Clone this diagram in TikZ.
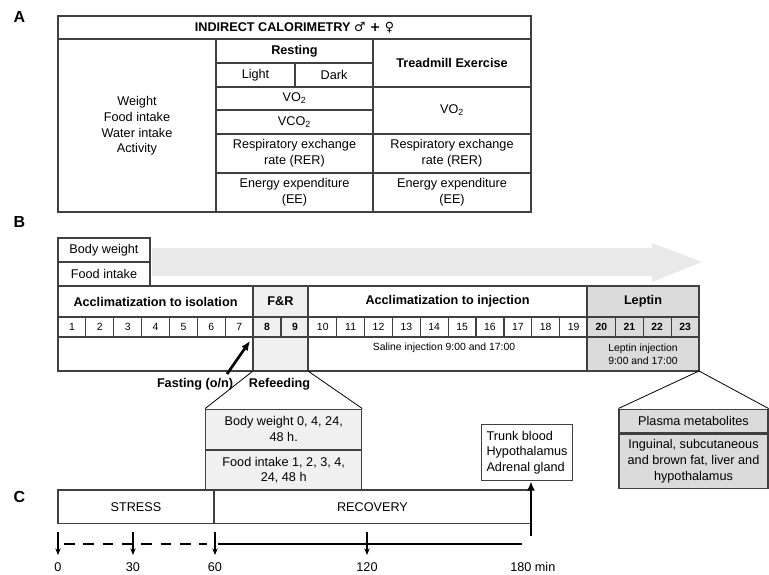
\documentclass[tikz,border=0pt]{standalone}
\usepackage{fontspec}
\setmainfont{Liberation Sans}
\newfontfamily\symbolfont{DejaVu Sans}
\usetikzlibrary{arrows.meta,positioning,calc}

\begin{document}
\begin{tikzpicture}[x=0.75pt,y=-0.75pt,
    tblline/.style={draw=black!75, line width=0.9pt},
    txt/.style={font=\fontsize{9.5}{11.8}\selectfont, align=center, inner sep=0pt},
    hdr/.style={font=\fontsize{9.5}{11.8}\selectfont\bfseries, inner sep=0pt},
    smalltxt/.style={font=\fontsize{7.8}{9.6}\selectfont, align=center, inner sep=0pt},
    panel/.style={font=\fontsize{12}{14}\selectfont\bfseries, inner sep=0pt},
    frfill/.style={fill=gray!12},
    lepfill/.style={fill=gray!28},
    tparrow/.style={-{Stealth[length=5pt,width=4pt]}, line width=0.8pt},
    bigarrow/.style={-{Latex[length=7pt,width=6pt]}, line width=2pt}]

    \useasboundingbox (0,0) rectangle (769,575);

    % Panel labels
    \node[panel] (labA) at (19.5,16.5) {A};
    \node[panel] (labB) at (19.5,222) {B};
    \node[panel] (labC) at (19.5,497) {C};

    % Panel A: calorimetry table
    \draw[tblline] (58,16) rectangle (531,212);
    \draw[tblline] (58,39) -- (531,39);
    \draw[tblline] (216,39) -- (216,212);
    \draw[tblline] (373,39) -- (373,212);
    \draw[tblline] (216,63) -- (373,63);
    \draw[tblline] (295,63) -- (295,87);
    \draw[tblline] (216,110) -- (373,110);
    \foreach \y in {87,134,173} {
        \draw[tblline] (216,\y) -- (531,\y);
    }

    \node[hdr] (title) at (294.5,27.5) {INDIRECT CALORIMETRY {\symbolfont ♂ + ♀}};
    \node[txt] (measures) at (137,126) {Weight\\Food intake\\Water intake\\Activity};
    \node[hdr] (resting) at (294.5,51) {Resting};
    \node[txt] (light) at (255.5,75) {Light};
    \node[txt] (dark) at (334,75) {Dark};
    \node[txt] (vo2) at (294.5,98.5) {VO\textsubscript{2}};
    \node[txt] (vco2) at (294.5,122) {VCO\textsubscript{2}};
    \node[txt] (rer) at (294.5,153.5) {Respiratory exchange\\rate (RER)};
    \node[txt] (ee) at (294.5,192.5) {Energy expenditure\\(EE)};
    \node[hdr] (treadmill) at (452,63) {Treadmill Exercise};
    \node[txt] (vo2ex) at (452,110.5) {VO\textsubscript{2}};
    \node[txt] (rerex) at (452,153.5) {Respiratory exchange\\rate (RER)};
    \node[txt] (eeex) at (452,192.5) {Energy expenditure\\(EE)};

    % Panel B: measurements and grey time arrow
    \draw[tblline] (58,238) rectangle (150,286);
    \draw[tblline] (58,262) -- (150,262);
    \node[txt] (bw) at (104,250) {Body weight};
    \node[txt] (fi) at (104,274) {Food intake};
    \fill[gray!17] (152,248) -- (652,248) -- (652,243) -- (702,262)
        -- (652,282) -- (652,276) -- (152,276) -- cycle;

    % Shaded periods
    \fill[frfill] (253,286) rectangle (308,371);
    \fill[lepfill] (587,286) rectangle (699,371);

    % Timeline grid
    \draw[tblline] (58,286) rectangle (699,371);
    \draw[tblline] (58,317) -- (699,317);
    \draw[tblline] (58,337) -- (699,337);
    \foreach \d in {1,...,22} {
        \draw[tblline] ({58+27.87*\d},317) -- ({58+27.87*\d},337);
    }
    \foreach \x in {253,308,587} {
        \draw[tblline] (\x,286) -- (\x,371);
    }

    % Day numbers
    \foreach \d in {1,...,7,10,11,...,19} {
        \node[smalltxt] (day\d) at ({58+27.87*(\d-0.5)},327) {\d};
    }
    \foreach \d in {8,9,20,21,22,23} {
        \node[smalltxt, font=\fontsize{7.8}{9.6}\selectfont\bfseries] (day\d) at ({58+27.87*(\d-0.5)},327) {\d};
    }

    % Period headers
    \node[hdr] (isol) at (155.5,301.5) {Acclimatization to isolation};
    \node[hdr] (fr) at (280.5,301.5) {F\&R};
    \node[hdr] (inj) at (447.5,301.5) {Acclimatization to injection};
    \node[hdr] (lep) at (643,301.5) {Leptin};
    \node[smalltxt] (saline) at (444,347.5) {Saline injection 9:00 and 17:00};
    \node[smalltxt] (lepinj) at (643,354.5) {Leptin injection\\9:00 and 17:00};

    % Fasting and refeeding
    \node[hdr] (fasting) at (195,384) {Fasting (o/n)};
    \node[hdr] (refeed) at (279.5,384) {Refeeding};
    \coordinate (fastTail) at (227,374);
    \coordinate (fastTip) at (250,341);
    \draw[bigarrow] (fastTail) -- (fastTip);

    % Zoomed boxes
    \node[tblline, frfill, txt, minimum width=117pt, minimum height=30pt] (bwzoom) at (283.7,429.2) {Body weight 0, 4, 24,\\48 h.};
    \node[tblline, frfill, txt, minimum width=117pt, minimum height=29.8pt, below=0pt of bwzoom] (fizoom) {Food intake 1, 2, 3, 4,\\24, 48 h};
    \coordinate (frSW) at (253,371);
    \coordinate (frSE) at (308,371);
    \draw[line width=0.6pt] (frSW) -- (bwzoom.north west);
    \draw[line width=0.6pt] (frSE) -- (bwzoom.north east);

    \node[tblline, lepfill, txt, minimum width=111.75pt, minimum height=17.8pt] (plasma) at (693.5,421) {Plasma metabolites};
    \node[tblline, lepfill, txt, minimum width=111.75pt, minimum height=41pt, below=0pt of plasma] (tissue) {Inguinal, subcutaneous\\and brown fat, liver and\\hypothalamus};
    \coordinate (lepSE) at (699,371);
    \draw[line width=0.6pt] (lepSE) -- (plasma.north west);
    \draw[line width=0.6pt] (lepSE) -- (plasma.north east);

    % Panel C: stress and recovery
    \draw[tblline] (58,490) rectangle (531,523.3);
    \draw[tblline] (214,490) -- (214,523.3);
    \node[txt] (stress) at (136,506.7) {STRESS};
    \node[txt] (recovery) at (372.5,506.7) {RECOVERY};

    \node[tblline, txt, align=left, minimum width=68.25pt, minimum height=42.3pt] (trunk) at (527,452.5) {Trunk blood\\Hypothalamus\\Adrenal gland};
    \coordinate (cEnd) at (531,536);
    \draw[bigarrow] (cEnd) -- (cEnd |- trunk.south);

    % Sampling times
    \foreach \x/\t in {58/0,133/30,215/60,367/120} {
        \coordinate (tp\t) at (\x,532);
        \coordinate (tq\t) at (\x,555);
        \draw[tparrow] (tp\t) -- (tq\t);
        \node[txt] (lbl\t) at (\x,567) {\t};
    }
    \node[txt, anchor=west] (lbl180) at (510,567) {180 min};

    \coordinate (dashA) at (64,544);
    \coordinate (dashB) at (207,544);
    \coordinate (solA) at (218,544);
    \coordinate (solB) at (522,544);
    \draw[line width=2pt, dash pattern=on 8pt off 6.5pt] (dashA) -- (dashB);
    \draw[line width=2pt] (solA) -- (solB);
\end{tikzpicture}
\end{document}
